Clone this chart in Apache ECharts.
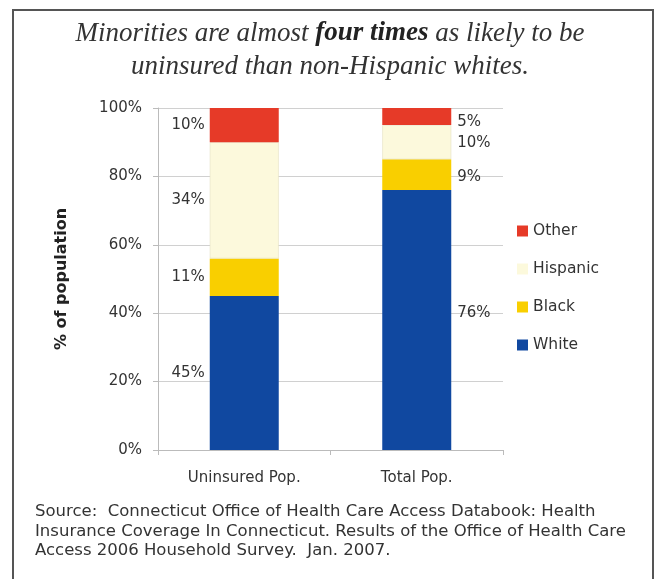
<!DOCTYPE html>
<html>
<head>
<meta charset="utf-8">
<script src="https://cdn.jsdelivr.net/npm/echarts@6/dist/echarts.min.js"></script>
<style>
html,body{margin:0;padding:0;background:#fff;}
#c{width:660px;height:579px;}
</style>
</head>
<body>
<div id="c"></div>
<script>
// ---- data ----
var categories = ['Uninsured Pop.', 'Total Pop.'];
var seriesNames = ['White', 'Black', 'Hispanic', 'Other'];
var whiteVals = [45, 76];
var blackVals = [11, 9];
var hispanicVals = [34, 10];
var otherVals = [10, 5];
var yTicks = [0, 20, 40, 60, 80, 100];
var legendOrder = ['Other', 'Hispanic', 'Black', 'White'];
var titleLine1 = 'Minorities are almost {b|four times} as likely to be';
var titleLine2 = 'uninsured than non-Hispanic whites.';
var sourceText = 'Source:  Connecticut Office of Health Care Access Databook: Health\nInsurance Coverage In Connecticut. Results of the Office of Health Care\nAccess 2006 Household Survey.  Jan. 2007.';

// ---- styles ----
var colors = { White: '#1048a0', Black: '#f9cf00', Hispanic: '#fcf9dc', Other: '#e63a28' };
var labelOffsets = {
  White: [[0, 0], [0, -7]],
  Black: [[0, 0], [0, 2]],
  Hispanic: [[0, 0], [0, 1]],
  Other: [[0, 0], [0, 6]]
};
var valuesByName = { White: whiteVals, Black: blackVals, Hispanic: hispanicVals, Other: otherVals };
var font = 'DejaVu Sans';
var textColor = '#333';

var series = seriesNames.map(function (name) {
  return {
    name: name,
    type: 'bar',
    stack: 'total',
    barWidth: '40%',
    itemStyle: {
      color: colors[name],
      borderColor: name === 'Hispanic' ? '#e4e0c4' : colors[name],
      borderWidth: name === 'Hispanic' ? 0.6 : 0
    },
    data: valuesByName[name].map(function (v, i) {
      return {
        value: v,
        label: {
          show: true,
          position: i === 0 ? 'left' : 'right',
          distance: i === 0 ? 5 : 6,
          offset: labelOffsets[name][i],
          formatter: '{c}%',
          color: textColor,
          fontFamily: font,
          fontSize: 15
        }
      };
    })
  };
});

var chart = echarts.init(document.getElementById('c'), null, { renderer: 'canvas' });
chart.setOption({
  backgroundColor: '#fff',
  animation: false,
  title: {
    text: titleLine1 + '\n' + titleLine2,
    left: 'center',
    top: 12,
    textStyle: {
      fontFamily: 'Liberation Serif',
      fontStyle: 'italic',
      fontWeight: 'normal',
      fontSize: 27,
      lineHeight: 33,
      color: '#333',
      rich: {
        b: {
          fontFamily: 'Liberation Serif',
          fontStyle: 'italic',
          fontWeight: 'bold',
          fontSize: 27,
          lineHeight: 33,
          color: '#222'
        }
      }
    }
  },
  legend: {
    orient: 'vertical',
    left: 517,
    top: 223,
    padding: 0,
    data: legendOrder,
    icon: 'rect',
    itemWidth: 11,
    itemHeight: 11,
    itemGap: 22,
    itemStyle: { borderWidth: 0 },
    textStyle: { fontFamily: font, fontSize: 15.5, color: textColor }
  },
  grid: { left: 158, right: 157, top: 108, bottom: 129, containLabel: false },
  xAxis: {
    type: 'category',
    data: categories,
    axisLine: { show: true, lineStyle: { color: '#bbb', width: 1 } },
    axisTick: { show: true, length: 5, lineStyle: { color: '#bbb' } },
    axisLabel: { color: textColor, fontFamily: font, fontSize: 15, margin: 21 }
  },
  yAxis: {
    type: 'value',
    min: yTicks[0],
    max: yTicks[yTicks.length - 1],
    interval: yTicks[1] - yTicks[0],
    name: '% of population',
    nameLocation: 'middle',
    nameRotate: 90,
    nameGap: 88,
    nameTextStyle: { fontFamily: font, fontWeight: 'bold', fontSize: 16, color: '#222' },
    axisLine: { show: true, lineStyle: { color: '#bbb', width: 1 } },
    axisTick: { show: true, length: 5, lineStyle: { color: '#bbb' } },
    splitLine: { show: true, lineStyle: { color: '#d0d0d0', width: 1 } },
    axisLabel: { formatter: '{value}%', color: textColor, fontFamily: font, fontSize: 15, margin: 16 }
  },
  series: series,
  graphic: [
    {
      type: 'rect',
      shape: { x: 13, y: 10, width: 640, height: 600 },
      style: { fill: 'none', stroke: '#555', lineWidth: 2 },
      silent: true
    },
    {
      type: 'text',
      left: 35,
      top: 502,
      style: {
        text: sourceText,
        fontFamily: font,
        fontSize: 16.5,
        lineHeight: 19.5,
        fill: textColor
      },
      silent: true
    }
  ]
});
</script>
</body>
</html>
